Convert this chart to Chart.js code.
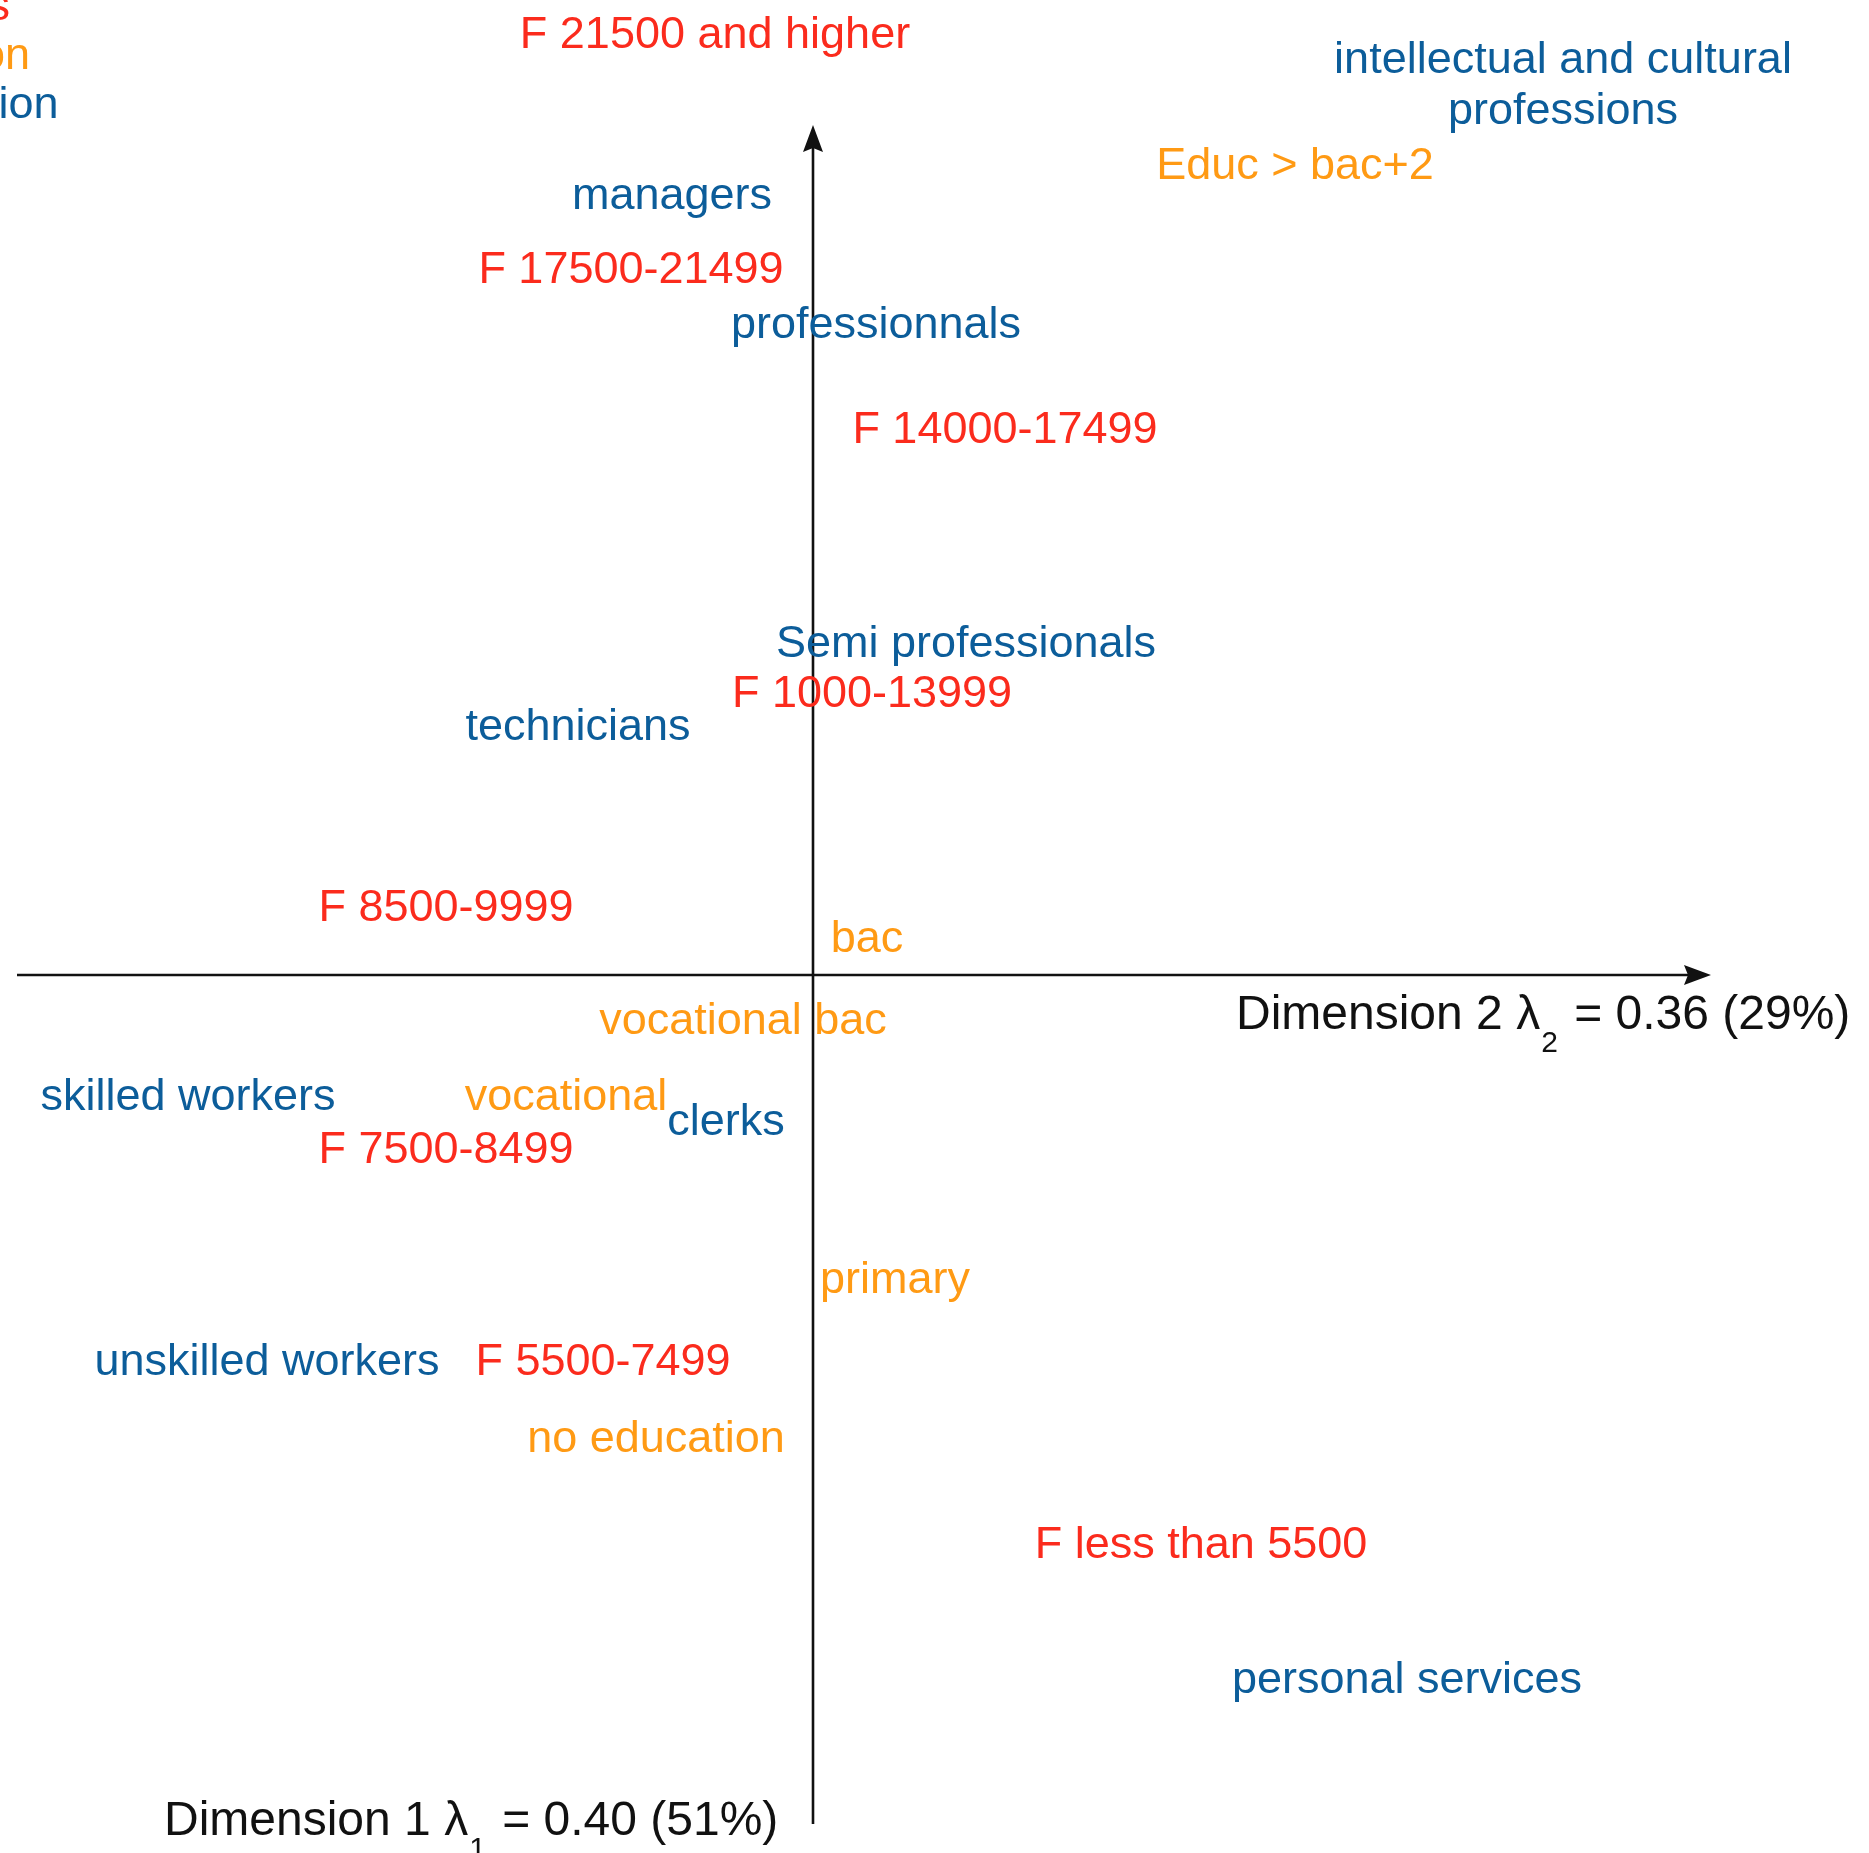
<!DOCTYPE html>
<html>
<head>
<meta charset="utf-8">
<script src="https://cdn.jsdelivr.net/npm/chart.js@4.4.0/dist/chart.umd.min.js"></script>
<style>
    html, body { margin: 0; padding: 0; background: #fff; }
    #wrap { width: 1869px; height: 1853px; }
</style>
</head>
<body>
<div id="wrap"><canvas id="caMap" width="1869" height="1853"></canvas></div>
<script>
// Correspondence analysis map: income, education and profession categories

// Income categories (red)
const incomeLabels = ["F 21500 and higher", "F 17500-21499", "F 14000-17499", "F 1000-13999",
    "F 8500-9999", "F 7500-8499", "F 5500-7499", "F less than 5500"];
const incomeDim2 = [-0.098, -0.182, 0.192, 0.059, -0.367, -0.367, -0.210, 0.388];
const incomeDim1 = [0.943, 0.708, 0.548, 0.284, 0.070, -0.172, -0.384, -0.567];

// Education categories (orange)
const educLabels = ["Educ > bac+2", "bac", "vocational bac", "vocational", "primary", "no education"];
const educDim2 = [0.482, 0.054, -0.070, -0.247, 0.082, -0.157];
const educDim1 = [0.812, 0.039, -0.043, -0.119, -0.302, -0.461];

// Profession categories (blue)
const profLabels = ["intellectual and cultural\nprofessions", "managers", "professionnals",
    "Semi professionals", "technicians", "skilled workers", "clerks", "unskilled workers",
    "personal services"];
const profDim2 = [0.750, -0.141, 0.063, 0.153, -0.235, -0.625, -0.087, -0.546, 0.594];
const profDim1 = [0.893, 0.782, 0.653, 0.334, 0.251, -0.119, -0.144, -0.384, -0.702];

// Legend (clipped at the left edge in the original)
const legendLabels = ["Incomes", "Education", "Profession"];

const RED = '#fb2b1d';
const ORANGE = '#ff9a14';
const BLUE = '#0c5d9a';
const legendColors = [RED, ORANGE, BLUE];

// Axis extents and titles
const axisDim2Range = [-0.796, 0.898];
const axisDim1Range = [-0.849, 0.850];
const dim2Title = ["Dimension 2 \u03bb", "2", " = 0.36 (29%)"];
const dim1Title = ["Dimension 1 \u03bb", "1", " = 0.40 (51%)"];

const LABEL_FONT = '45px "Liberation Sans", Arial, sans-serif';
const TITLE_FONT = '48px "Liberation Sans", Arial, sans-serif';
const SUB_FONT = '30px "Liberation Sans", Arial, sans-serif';

function toPoints(xs, ys) {
    return xs.map((x, i) => ({ x: x, y: ys[i] }));
}

function arrow(ctx, x1, y1, x2, y2) {
    const ang = Math.atan2(y2 - y1, x2 - x1);
    const c = Math.cos(ang), s = Math.sin(ang);
    const len = 27, half = 10;
    ctx.beginPath();
    ctx.moveTo(x1, y1);
    ctx.lineTo(x2 - c * (len - 4), y2 - s * (len - 4));
    ctx.stroke();
    ctx.beginPath();
    ctx.moveTo(x2, y2);
    ctx.lineTo(x2 - c * len - s * half, y2 - s * len + c * half);
    ctx.lineTo(x2 - c * (len - 4), y2 - s * (len - 4));
    ctx.lineTo(x2 - c * len + s * half, y2 - s * len - c * half);
    ctx.closePath();
    ctx.fill();
}

function subTitle(ctx, x, y, parts) {
    ctx.textAlign = 'left';
    ctx.textBaseline = 'middle';
    ctx.font = TITLE_FONT;
    ctx.fillText(parts[0], x, y);
    x += ctx.measureText(parts[0]).width;
    ctx.font = SUB_FONT;
    ctx.fillText(parts[1], x + 1, y + 28);
    x += ctx.measureText(parts[1]).width + 4;
    ctx.font = TITLE_FONT;
    ctx.fillText(parts[2], x, y);
}

const axesPlugin = {
    id: 'caAxes',
    beforeDatasetsDraw(chart) {
        const ctx = chart.ctx;
        const sx = chart.scales.x, sy = chart.scales.y;
        ctx.save();
        ctx.strokeStyle = '#111';
        ctx.fillStyle = '#111';
        ctx.lineWidth = 2.6;
        const x0 = sx.getPixelForValue(0), y0 = sy.getPixelForValue(0);
        arrow(ctx, sx.getPixelForValue(axisDim2Range[0]), y0, sx.getPixelForValue(axisDim2Range[1]), y0);
        arrow(ctx, x0, sy.getPixelForValue(axisDim1Range[0]), x0, sy.getPixelForValue(axisDim1Range[1]));
        subTitle(ctx, sx.getPixelForValue(0.423), sy.getPixelForValue(-0.041), dim2Title);
        subTitle(ctx, sx.getPixelForValue(-0.649), sy.getPixelForValue(-0.847), dim1Title);

        // legend, mostly outside the canvas on the left
        ctx.font = LABEL_FONT;
        ctx.textAlign = 'left';
        ctx.textBaseline = 'alphabetic';
        const legendX = [-160, -170, -154];
        legendLabels.forEach((t, i) => {
            ctx.fillStyle = legendColors[i];
            ctx.fillText(t, legendX[i], 20 + i * 49);
        });
        ctx.restore();
    }
};

const labelPlugin = {
    id: 'caLabels',
    afterDatasetsDraw(chart) {
        const ctx = chart.ctx;
        ctx.save();
        ctx.font = LABEL_FONT;
        ctx.textAlign = 'center';
        ctx.textBaseline = 'middle';
        chart.data.datasets.forEach((ds, i) => {
            const meta = chart.getDatasetMeta(i);
            ctx.fillStyle = ds.borderColor;
            meta.data.forEach((pt, j) => {
                const lines = ds.pointLabels[j].split('\n');
                lines.forEach((line, k) => {
                    ctx.fillText(line, pt.x, pt.y + 4 + (k - (lines.length - 1) / 2) * 51);
                });
            });
        });
        ctx.restore();
    }
};

const ctx = document.getElementById('caMap').getContext('2d');
new Chart(ctx, {
    type: 'scatter',
    data: {
        datasets: [
            { label: 'Income', data: toPoints(incomeDim2, incomeDim1), pointLabels: incomeLabels,
              borderColor: RED, backgroundColor: RED, pointRadius: 0 },
            { label: 'Education', data: toPoints(educDim2, educDim1), pointLabels: educLabels,
              borderColor: ORANGE, backgroundColor: ORANGE, pointRadius: 0 },
            { label: 'Profession', data: toPoints(profDim2, profDim1), pointLabels: profLabels,
              borderColor: BLUE, backgroundColor: BLUE, pointRadius: 0 }
        ]
    },
    options: {
        responsive: false,
        animation: false,
        layout: { padding: 0 },
        plugins: {
            legend: { display: false },
            tooltip: { enabled: false }
        },
        scales: {
            x: { display: false, min: -0.813, max: 1.056 },
            y: { display: false, min: -0.878, max: 0.975 }
        }
    },
    plugins: [axesPlugin, labelPlugin]
});
</script>
</body>
</html>
